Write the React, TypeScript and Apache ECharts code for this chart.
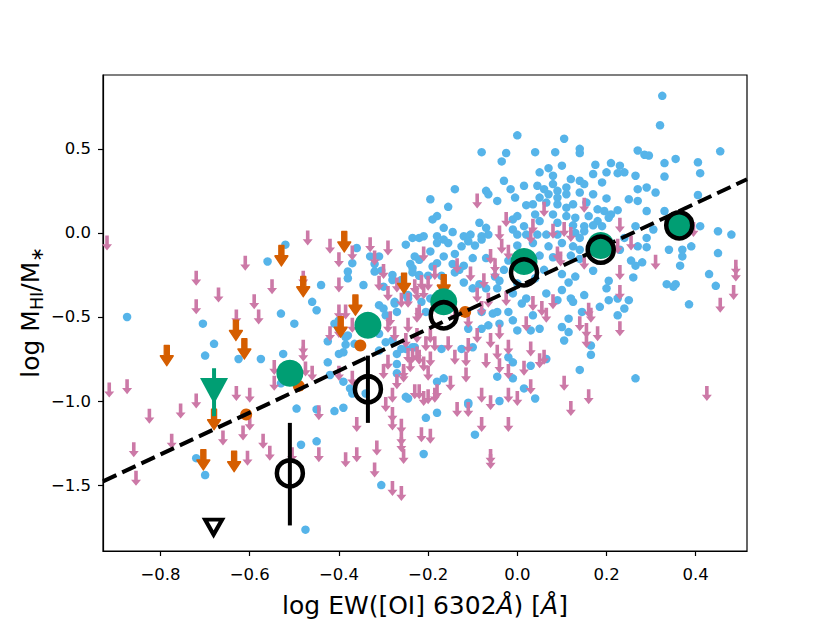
import React, { useEffect, useRef } from "react";
import * as echarts from "echarts";

// ---------- data ----------
const blueDots: number[][] = [
  [-0.52,-0.07],[-0.56,-0.17],[-0.36,-0.09],[-0.37,-0.18],[-0.38,-0.23],[-0.38,-0.27],[-0.44,-0.31],[-0.46,-0.41],[-0.45,-0.46],[-0.53,-0.48],
  [-0.875,-0.50],[-0.345,-0.31],[-0.33,-0.14],[-0.32,-0.185],[-0.32,-0.23],[-0.31,-0.14],[-0.30,-0.32],[-0.28,-0.25],[-0.28,-0.28],[-0.25,-0.07],
  [-0.235,-0.03],[-0.22,-0.03],[-0.24,-0.185],[-0.235,-0.21],[-0.23,-0.14],[-0.22,-0.16],[-0.26,-0.28],[-0.245,-0.37],[-0.245,-0.39],[-0.275,-0.42],
  [-0.31,-0.43],[-0.30,-0.45],[-0.22,-0.25],[-0.305,-0.225],[-0.50,-0.54],[-0.41,-0.54],[-0.40,-0.52],[-0.40,-0.57],[-0.295,-0.49],[-0.275,-0.41],
  [-0.27,-0.47],[-0.385,-0.62],[-0.385,-0.665],[-0.425,-0.645],[-0.365,-0.66],[-0.28,-0.64],[-0.705,-0.54],[-0.68,-0.66],[-0.70,-0.73],[-0.625,-0.75],
  [-0.575,-0.75],[-0.525,-0.72],[-0.53,-0.895],[-0.495,-1.045],[-0.425,-0.77],[-0.41,-1.06],[-0.39,-1.04],[-0.375,-0.925],[-0.40,-0.72],[-0.38,-0.61],
  [-0.31,-0.60],[-0.295,-0.65],[-0.31,-0.70],[-0.25,-0.69],[-0.27,-0.72],[-0.23,-0.68],[-0.245,-0.985],[-0.305,-1.50],[-0.485,-1.26],[-0.45,-1.24],
  [-0.72,-1.34],[-0.70,-1.44],[-0.475,-1.765],[-0.39,-0.71],[-0.42,-0.845],[-0.39,-0.885],[-0.37,-0.955],[-0.34,-0.955],[-0.45,-1.05],[-0.27,-0.78],
  [-0.27,-0.835],
  [0.0,0.58],[-0.08,0.48],[-0.025,0.475],[-0.035,0.425],[-0.03,0.31],[-0.14,0.26],[-0.07,0.25],[-0.065,0.23],[-0.015,0.26],[-0.045,0.19],
  [-0.005,0.21],[-0.195,0.20],[-0.155,0.155],[-0.18,0.10],[-0.19,0.08],[-0.165,0.03],[-0.145,0.005],[-0.085,0.06],[-0.07,0.03],[-0.08,-0.02],
  [-0.065,-0.01],[-0.01,0.08],[0.0,0.10],[-0.01,0.02],[0.0,-0.01],[-0.21,-0.02],[-0.18,-0.02],[-0.18,-0.06],[-0.165,-0.04],[-0.155,-0.06],
  [-0.12,-0.02],[-0.105,-0.01],[-0.125,-0.08],[-0.11,-0.05],[-0.095,-0.075],[-0.08,-0.04],[-0.195,-0.11],[-0.165,-0.14],[-0.14,-0.125],[-0.10,-0.15],
  [-0.07,-0.15],[-0.18,-0.18],[-0.145,-0.185],[-0.12,-0.195],[-0.02,-0.165],[0.0,-0.075],
  [0.105,0.56],[0.14,0.50],[0.14,0.475],[0.04,0.48],[0.085,0.48],[0.27,0.49],[0.07,0.385],[0.10,0.40],[0.05,0.36],[0.08,0.34],
  [0.175,0.405],[0.21,0.415],[0.23,0.40],[0.20,0.36],[0.225,0.355],[0.24,0.36],[0.17,0.35],[0.265,0.34],[0.12,0.32],[0.14,0.31],
  [0.15,0.29],[0.19,0.30],[0.015,0.28],[0.045,0.28],[0.06,0.26],[0.08,0.29],[0.09,0.25],[0.11,0.27],[0.07,0.23],[0.05,0.21],
  [0.09,0.21],[0.11,0.23],[0.14,0.24],[0.17,0.23],[0.20,0.205],[0.27,0.26],[0.25,0.20],[0.035,0.17],[0.02,0.165],[0.065,0.18],
  [0.09,0.17],[0.11,0.15],[0.125,0.17],[0.155,0.18],[0.18,0.14],[0.195,0.13],[0.21,0.11],[0.225,0.135],[0.27,0.19],[0.04,0.11],
  [0.08,0.11],[0.11,0.10],[0.13,0.09],[0.16,0.10],[0.18,0.07],[0.205,0.09],[0.015,0.04],[0.05,0.07],[0.09,0.06],[0.125,0.045],
  [0.15,0.04],[0.17,0.045],[0.19,0.04],[0.265,0.04],[0.02,-0.01],[0.045,-0.01],[0.065,-0.01],[0.09,-0.01],[0.13,0.0],[0.14,-0.03],
  [0.15,0.01],[0.24,-0.03],[0.035,-0.06],[0.07,-0.08],[0.10,-0.06],[0.125,-0.08],[0.14,-0.10],[0.23,-0.10],[0.27,-0.08],[0.05,-0.135],
  [0.08,-0.145],[0.12,-0.135],[0.14,-0.155],[0.255,-0.165],[0.265,-0.195],
  [0.325,0.815],[0.32,0.64],[0.455,0.485],[0.285,0.465],[0.295,0.46],[0.355,0.44],[0.33,0.415],[0.405,0.42],[0.41,0.355],[0.33,0.335],
  [0.29,0.27],[0.31,0.24],[0.405,0.225],[0.29,0.13],[0.33,0.13],[0.305,0.02],[0.41,0.04],[0.45,0.01],[0.48,-0.01],[0.29,-0.03],
  [0.29,-0.085],[0.34,-0.10],[0.37,-0.10],[0.39,-0.08],[0.37,-0.14],[0.45,-0.12],[0.28,-0.175],[0.365,-0.195],
  [0.43,-0.245],[0.335,-0.305],[0.355,-0.305],[0.35,-0.32],[0.445,-0.315],[0.385,-0.425],
  [-0.235,-0.235],[-0.22,-0.255],[-0.20,-0.255],[-0.17,-0.255],[-0.14,-0.235],[-0.12,-0.295],[-0.10,-0.33],[-0.085,-0.305],[-0.07,-0.33],[-0.04,-0.285],
  [-0.045,-0.33],[-0.25,-0.37],[-0.215,-0.41],[-0.195,-0.39],[-0.205,-0.47],[-0.08,-0.47],[-0.055,-0.48],[-0.045,-0.47],[-0.02,-0.47],[-0.01,-0.52],
  [-0.11,-0.57],[-0.08,-0.57],[-0.065,-0.55],[-0.04,-0.54],[0.0,-0.58],[-0.26,-0.69],[-0.235,-0.68],[-0.17,-0.69],[-0.125,-0.69],[-0.10,-0.68],
  [-0.02,-0.74],[-0.01,-0.77],[-0.045,-0.855],[-0.01,-0.865],[-0.165,-0.865],[-0.18,-0.885],[-0.25,-0.975],[-0.11,-1.01],[-0.04,-1.0],[-0.18,-1.07],
  [0.02,-0.39],[0.065,-0.36],[0.10,-0.34],[0.12,-0.39],[0.125,-0.41],[0.09,-0.40],[0.15,-0.37],[0.115,-0.295],[0.205,-0.285],[0.20,-0.33],
  [0.205,-0.40],[0.225,-0.39],[0.25,-0.40],[0.24,-0.45],[0.225,-0.49],[0.185,-0.44],[0.145,-0.47],[0.115,-0.51],[0.035,-0.49],[0.05,-0.57],
  [0.03,-0.58],[0.10,-0.56],[0.115,-0.59],[0.105,-0.64],[0.165,-0.67],[0.165,-0.725],[0.065,-0.75],[0.03,-0.79],[0.14,-0.815],[0.265,-0.865],
  [0.015,-0.925],[0.04,-0.985],[0.17,-0.225],[0.26,-0.265],
  [-0.21,-1.315],[-0.095,-1.20],[-0.205,-1.10],[-0.11,-1.02],
  [0.10,-0.245],[0.06,-0.22],[0.04,-0.27],[0.13,-0.26],[-0.03,-0.22],[-0.05,-0.26],[-0.13,-0.22],[-0.19,-0.2],[0.0,-0.30],[-0.01,-0.36],[0.01,-0.42],
];

const pinkLimits: number[][] = [
  [-0.92,-0.06],[-0.47,-0.03],[-0.42,-0.08],[-0.33,-0.07],[-0.29,-0.09],[-0.61,-0.18],[-0.40,-0.16],[-0.32,-0.15],[-0.37,-0.12],[-0.72,-0.27],
  [-0.55,-0.32],[-0.48,-0.27],[-0.40,-0.31],[-0.30,-0.23],[-0.31,-0.30],[-0.67,-0.37],[-0.59,-0.41],[-0.72,-0.44],[-0.29,-0.36],[-0.27,-0.31],
  [-0.26,-0.40],[-0.40,-0.47],[-0.385,-0.47],[-0.63,-0.50],[-0.58,-0.50],[-0.23,-0.32],[-0.42,-0.60],[-0.37,-0.55],[-0.29,-0.55],[-0.275,-0.60],
  [-0.48,-0.68],[-0.915,-0.935],[-0.875,-0.915],[-0.825,-1.09],[-0.755,-1.06],[-0.72,-1.0],[-0.63,-0.955],[-0.60,-0.965],[-0.545,-0.80],[-0.545,-0.895],
  [-0.86,-1.29],[-0.855,-1.46],[-0.775,-1.24],[-0.66,-1.22],[-0.615,-1.19],[-0.605,-1.34],[-0.60,-1.13],[-0.57,-1.24],[-0.555,-1.31],[-0.505,-1.32],
  [-0.475,-0.81],[-0.445,-1.07],[-0.445,-1.32],[-0.40,-0.58],[-0.40,-0.835],[-0.36,-1.14],[-0.36,-1.32],[-0.32,-1.41],[-0.315,-1.28],[-0.28,-1.52],
  [-0.26,-1.55],[-0.28,-1.08],[-0.28,-1.13],[-0.26,-1.22],[-0.255,-1.33],[-0.26,-1.15],[-0.30,-0.825],[-0.295,-1.02],[-0.255,-0.845],[-0.24,-0.785],
  [-0.28,-0.965],[-0.245,-0.73],[-0.225,-0.72],[-0.22,-0.945],[-0.22,-0.47],[-0.285,-0.51],[-0.48,-0.72],[-0.46,-0.835],[-0.37,-0.865],[-0.29,-0.77],
  [-0.385,-1.35],[-0.27,-0.885],
  [-0.09,0.19],[-0.025,0.08],[-0.04,0.0],[-0.035,-0.08],[-0.02,-0.115],[-0.21,-0.125],[-0.06,-0.14],[-0.135,-0.195],[-0.05,-0.195],
  [0.06,0.14],[0.15,0.165],[0.035,0.04],[0.03,-0.02],[0.08,0.01],[0.105,0.02],[0.12,-0.01],[0.23,0.045],[0.255,-0.06],[0.09,-0.125],
  [0.097,-0.155],[0.15,-0.175],[0.225,-0.08],
  [0.31,-0.175],[0.395,0.02],[0.49,-0.205],[0.49,-0.245],[0.485,-0.355],[0.455,-0.43],[0.425,-0.955],
  [-0.185,-0.235],[-0.215,-0.295],[-0.20,-0.30],[-0.225,-0.36],[-0.21,-0.35],[-0.105,-0.245],[-0.075,-0.285],[-0.05,-0.235],[-0.245,-0.40],[-0.225,-0.49],
  [-0.14,-0.48],[-0.11,-0.52],[-0.08,-0.45],[-0.065,-0.40],[-0.025,-0.39],[-0.09,-0.37],[-0.245,-0.55],[-0.25,-0.64],[-0.225,-0.61],[-0.205,-0.66],
  [-0.195,-0.61],[-0.185,-0.66],[-0.155,-0.66],[-0.11,-0.67],[-0.09,-0.61],[-0.06,-0.64],[-0.04,-0.59],[-0.045,-0.71],[-0.02,-0.68],[-0.235,-0.73],
  [-0.22,-0.74],[-0.21,-0.78],[-0.195,-0.75],[-0.14,-0.74],[-0.115,-0.75],[-0.07,-0.76],[-0.04,-0.79],[-0.255,-0.825],[-0.20,-0.835],[-0.15,-0.895],
  [-0.115,-0.845],[-0.02,-0.825],[-0.23,-0.945],[-0.21,-0.985],[-0.20,-0.975],[-0.185,-0.965],[-0.18,-0.945],[-0.08,-0.965],[-0.06,-1.01],[-0.02,-0.965],
  [0.0,-0.985],[-0.135,-1.05],[-0.11,-1.05],
  [0.23,-0.235],[0.23,-0.355],[0.035,-0.42],[0.055,-0.45],[0.065,-0.49],[0.08,-0.41],[0.16,-0.46],[0.165,-0.49],[0.14,-0.54],[0.155,-0.58],
  [0.155,-0.64],[0.18,-0.60],[0.23,-0.57],[0.02,-0.54],[0.03,-0.69],[0.05,-0.76],[0.06,-0.74],[0.015,-0.805],[0.03,-0.915],[0.105,-0.895],
  [0.16,-0.975],[0.12,-1.045],
  [-0.06,-1.36],[-0.06,-1.33],[-0.02,-1.14],[-0.08,-1.14],[-0.215,-1.20],[-0.195,-1.21],[-0.26,-1.26],
];

const orangeLimits: number[][] = [
  [-0.529,-0.136],[-0.388,-0.053],[-0.48,-0.32],[-0.254,-0.30],[-0.363,-0.43],[-0.631,-0.58],[-0.612,-0.69],
  [-0.786,-0.73],[-0.704,-1.35],[-0.635,-1.36],[-0.396,-0.56],[-0.165,-0.31],[-0.68,-1.11],
];
const orangeDots: number[][] = [[-0.352,-0.67],[-0.49,-0.91],[-0.608,-1.08],[-0.117,-0.47]];

const binX = [-0.51, -0.335, -0.165, 0.015, 0.187, 0.363];
const greenMeans = [-0.835, -0.55, -0.41, -0.17, -0.075, 0.05];
const blackMeans = [-1.43, -0.93, -0.49, -0.235, -0.10, 0.045];
// error bars visible only for the two lowest bins
const errX = [-0.51, -0.335];
const errLo = [-1.74, -1.13];
const errHi = [-1.13, -0.73];

const greenLimitX = -0.68;
const greenLimitY = -0.94;
const greenLimitErr = [-1.09, -0.805];
const blackLimit = [-0.681, -1.75];

const fitX = [-0.929, 0.515];
const fitY = [-1.478, 0.319];

const xTicks = [-0.8, -0.6, -0.4, -0.2, 0.0, 0.2, 0.4];
const yTicks = [-1.5, -1.0, -0.5, 0.0, 0.5];

// ---------- styles ----------
const BLUE = "#56B4E9";
const PINK = "#CC79A7";
const ORANGE = "#D55E00";
const GREEN = "#009E73";
const FONT = "DejaVu Sans";

const PINK_ARROW = "path://M3.2,0 L6.8,0 L6.8,8.2 L10,8.2 L5,14 L0,8.2 L3.2,8.2 Z";
const ORANGE_ARROW = "path://M3.0,0 L7.0,0 L7.0,10.3 L10,10.3 L5,20 L0,10.3 L3.0,10.3 Z";

const fmt = (v: number) => (v < -1e-9 ? "\u2212" : "") + Math.abs(v).toFixed(1);

export default function App() {
  const ref = useRef<HTMLDivElement>(null);
  useEffect(() => {
    if (!ref.current) return;
    const chart = echarts.init(ref.current, undefined, { renderer: "svg" });
    const errRender = (params: any, api: any) => {
      const x = api.value(0);
      const p1 = api.coord([x, api.value(1)]);
      const p2 = api.coord([x, api.value(2)]);
      return {
        type: "line",
        shape: { x1: p1[0], y1: p1[1], x2: p2[0], y2: p2[1] },
        style: { stroke: api.visual("color"), lineWidth: 4 },
      };
    };
    const mainSize = 25;
    const subSize = 17.5;
    const wLogM = 2.706 * mainSize;
    const wHI = 1.047 * subSize;
    const wSlashM = 1.2 * mainSize;
    const wAst = 0.6 * subSize;
    const total = wLogM + wHI + wSlashM + wAst;
    const cy = 314.5;
    chart.setOption({
      animation: false,
      backgroundColor: "#fff",
      grid: {
        left: 103, top: 75, width: 644, height: 479,
        show: true, borderColor: "#000", borderWidth: 1.2, backgroundColor: "transparent",
      },
      xAxis: {
        type: "value", min: -0.929, max: 0.515,
        axisLine: { show: true, onZero: false, lineStyle: { color: "#000", width: 1.2 } },
        axisTick: { show: true, length: 5, inside: false, lineStyle: { color: "#000", width: 1.2 }, customValues: xTicks },
        axisLabel: { customValues: xTicks, formatter: fmt, color: "#000", fontSize: 16.5, fontFamily: FONT, margin: 15 },
        splitLine: { show: false },
        name: "{n|log EW([OI] 6302}{i|Å}{n|) [}{i|Å}{n|]}",
        nameLocation: "middle",
        nameGap: 42,
        nameTextStyle: {
          rich: {
            n: { fontSize: 25, fontFamily: FONT, color: "#000" },
            i: { fontSize: 25, fontFamily: FONT, color: "#000", fontStyle: "italic" },
          },
        },
      },
      yAxis: {
        type: "value", min: -1.892, max: 0.939,
        axisLine: { show: true, onZero: false, lineStyle: { color: "#000", width: 1.2 } },
        axisTick: { show: true, length: 5, inside: false, lineStyle: { color: "#000", width: 1.2 }, customValues: yTicks },
        axisLabel: { customValues: yTicks, formatter: fmt, color: "#000", fontSize: 16.5, fontFamily: FONT, margin: 12 },
        splitLine: { show: false },
      },
      graphic: [
        {
          type: "group",
          x: 30,
          y: cy + total / 2,
          rotation: Math.PI / 2,
          children: [
            { type: "text", x: 0, y: 0, style: { text: "log M", fontSize: mainSize, fontFamily: FONT, fill: "#000", verticalAlign: "middle", align: "left" } },
            { type: "text", x: wLogM, y: 7, style: { text: "HI", fontSize: subSize, fontFamily: FONT, fill: "#000", verticalAlign: "middle", align: "left" } },
            { type: "text", x: wLogM + wHI, y: 0, style: { text: "/M", fontSize: mainSize, fontFamily: FONT, fill: "#000", verticalAlign: "middle", align: "left" } },
            { type: "text", x: wLogM + wHI + wSlashM, y: 7, style: { text: "∗", fontSize: subSize, fontFamily: FONT, fill: "#000", verticalAlign: "middle", align: "left" } },
          ],
        },
      ],
      series: [
        {
          type: "scatter", data: blueDots, symbol: "circle", symbolSize: 8.5,
          itemStyle: { color: BLUE, opacity: 1 }, z: 2, silent: true,
        },
        {
          type: "scatter", data: pinkLimits, symbol: PINK_ARROW, symbolSize: [10, 15],
          itemStyle: { color: PINK, opacity: 1 }, z: 3, silent: true,
        },
        {
          type: "scatter", data: orangeDots, symbol: "circle", symbolSize: 12,
          itemStyle: { color: ORANGE, opacity: 1 }, z: 4, silent: true,
        },
        {
          type: "scatter", data: orangeLimits, symbol: ORANGE_ARROW, symbolSize: [13, 20],
          itemStyle: { color: ORANGE, opacity: 1, borderColor: ORANGE, borderWidth: 1.5, borderJoin: "round" }, z: 4, silent: true,
        },
        {
          type: "line", data: fitX.map((x, i) => [x, fitY[i]]), symbol: "none",
          lineStyle: { color: "#000", width: 4, type: [14.8, 6.4], cap: "butt", opacity: 1 }, z: 5, silent: true,
        },
        {
          type: "custom", renderItem: errRender, data: errX.map((x, i) => [x, errLo[i], errHi[i]]),
          encode: { x: 0, y: [1, 2] }, itemStyle: { color: "#000", opacity: 1 }, z: 5, silent: true,
        },
        {
          type: "scatter", data: binX.map((x, i) => [x, greenMeans[i]]), symbol: "circle", symbolSize: 27,
          itemStyle: { color: GREEN, opacity: 1 }, z: 6, silent: true,
        },
        {
          type: "custom", renderItem: errRender, data: [[greenLimitX, greenLimitErr[0], greenLimitErr[1]]],
          encode: { x: 0, y: [1, 2] }, itemStyle: { color: GREEN, opacity: 1 }, z: 6, silent: true,
        },
        {
          type: "scatter", data: [[greenLimitX, greenLimitY]], symbol: "triangle", symbolRotate: 180, symbolSize: [28, 26],
          itemStyle: { color: GREEN, opacity: 1 }, z: 6, silent: true,
        },
        {
          type: "scatter", data: binX.map((x, i) => [x, blackMeans[i]]), symbol: "circle", symbolSize: 26,
          itemStyle: { color: "transparent", borderColor: "#000", borderWidth: 4.5, opacity: 1 }, z: 8, silent: true,
        },
        {
          type: "scatter", data: [blackLimit], symbol: "triangle", symbolRotate: 180, symbolSize: [17, 15],
          itemStyle: { color: "transparent", borderColor: "#000", borderWidth: 4, opacity: 1 }, z: 8, silent: true,
        },
      ],
    });
    return () => chart.dispose();
  }, []);
  return (
    <div
      ref={ref}
      style={{ position: "fixed", left: 0, top: 0, width: 830, height: 623, background: "#fff" }}
    />
  );
}
